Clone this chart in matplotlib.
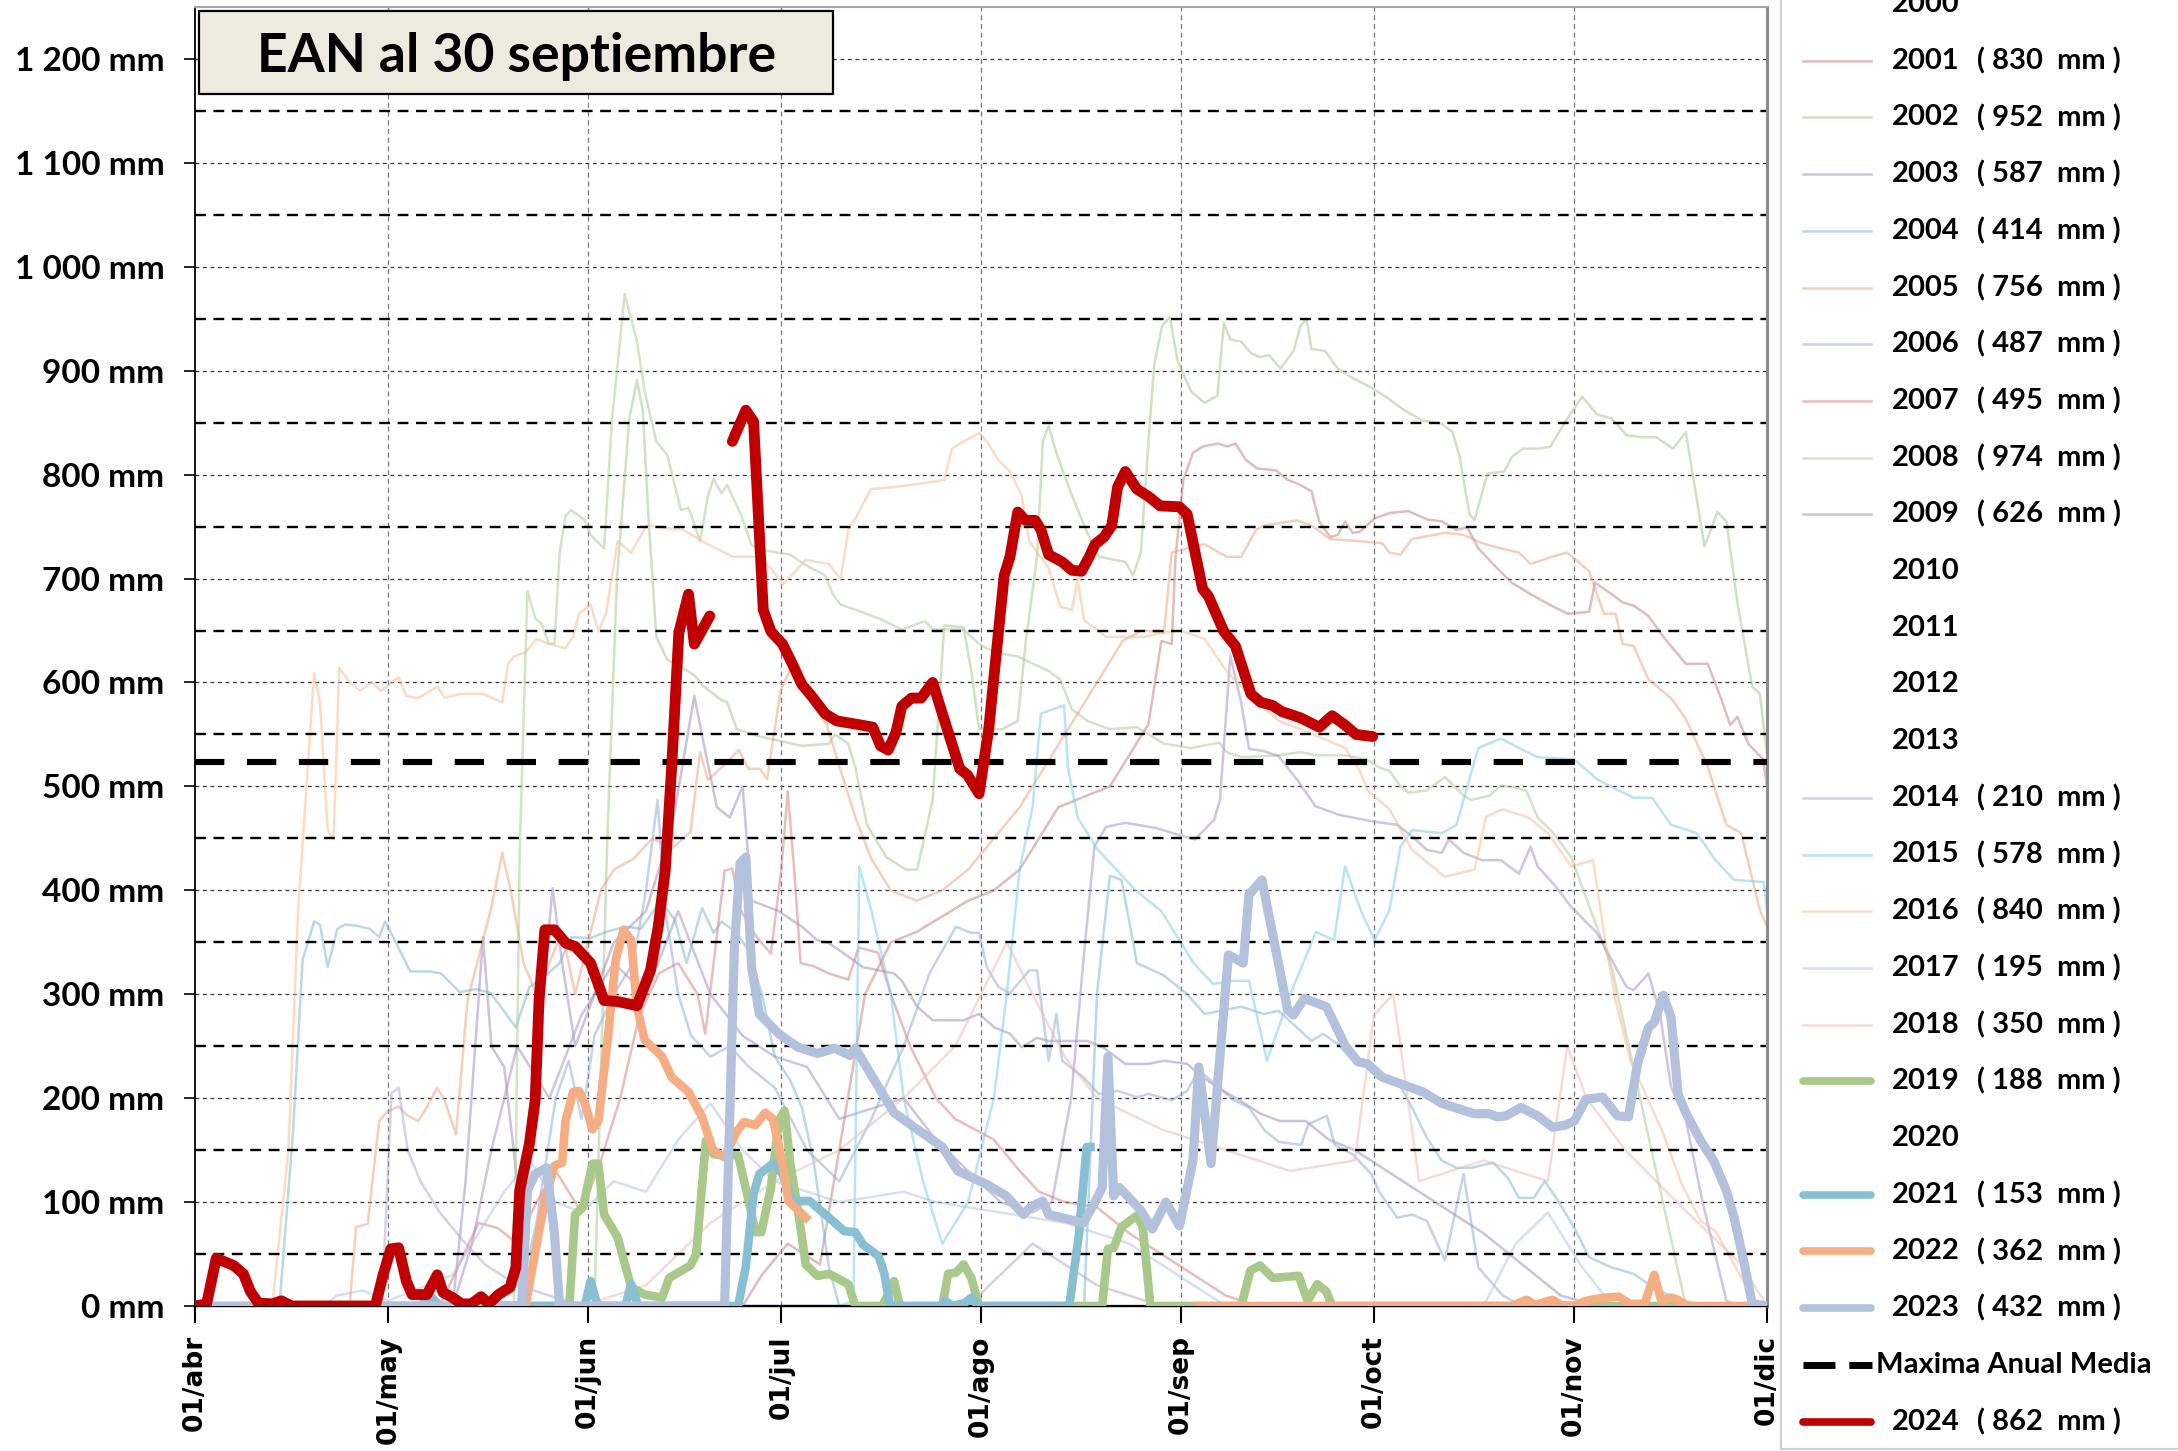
import numpy as np
import matplotlib
matplotlib.use("Agg")
import matplotlib.pyplot as plt
from matplotlib.lines import Line2D
from matplotlib.patches import Rectangle

nan = np.nan

# x axis: days counted from 1 April
MONTH_DAYS = [0, 30, 61, 91, 122, 153, 183, 214, 244]
MONTH_LABELS = ["01/abr", "01/may", "01/jun", "01/jul", "01/ago",
                "01/sep", "01/oct", "01/nov", "01/dic"]
Y_TICKS = list(range(0, 1300, 100))
Y_LABELS = ["0 mm", "100 mm", "200 mm", "300 mm", "400 mm", "500 mm", "600 mm",
            "700 mm", "800 mm", "900 mm", "1 000 mm", "1 100 mm", "1 200 mm"]
MAXIMA_MEDIA = 523
TITLE = "EAN al 30 septiembre"

# ---------------------------------------------------------------
# snow water equivalent (mm), (day, value) pairs per season
# ---------------------------------------------------------------
S2001 = [(0, 0), (85, 0), (88, 30), (92, 60), (97, 40), (100, 150), (104, 300), (108, 350),
         (112, 360), (116, 375), (120, 390), (124, 400), (128, 420), (131, 450), (134, 480),
         (138, 490), (142, 500), (145, 530), (148, 560), (150, 640), (151.6, 637), (152.2, 721),
         (153.4, 795), (154.9, 821), (156.4, 827), (158.8, 830), (160.3, 827), (161.5, 830),
         (163, 815), (164.8, 806), (167.8, 804), (169.6, 795), (171.6, 790), (173.3, 784),
         (174.5, 755), (176.2, 740), (177.4, 742), (178.5, 755), (179.7, 744), (180.8, 745),
         (183.1, 758), (185.4, 763), (188.3, 765), (191.2, 757), (193.5, 755), (195.8, 747),
         (197.5, 749), (199.2, 729), (202.1, 710), (204.4, 696), (207.3, 685), (210.2, 675),
         (213.1, 666), (216.4, 668), (217.3, 696), (219.9, 685), (221.6, 677), (223.3, 674),
         (225.6, 664), (227.9, 644), (231.4, 618), (234.8, 618), (236.6, 589), (238.3, 559),
         (239.4, 567), (241.1, 541), (243.4, 526), (244, 500)]

S2002 = [(0, 0), (62, 0), (64, 450), (65.5, 700), (67.4, 854), (68.6, 891), (69.5, 862),
         (70.4, 758), (71.6, 644), (73.3, 622), (75.7, 614), (77.5, 607), (79, 596), (81.7, 583),
         (82.6, 581), (84.1, 555), (87.7, 548), (90.6, 544), (94.2, 539), (98.4, 541), (99.3, 550),
         (101.4, 541), (102.5, 518), (104.3, 463), (107.3, 432), (110.3, 420), (112.1, 420),
         (114.5, 487), (116.3, 655), (119.3, 653), (120.5, 611), (121.7, 555), (125.3, 555),
         (127.7, 563), (128.9, 637), (130.7, 721), (131.6, 832), (132.5, 847), (133.7, 821),
         (136.1, 780), (138.5, 744), (140.3, 721), (144.4, 716), (145.6, 703), (146.8, 725),
         (148, 832), (148.9, 906), (150.1, 943), (151.3, 952), (152.5, 910), (154.6, 880),
         (156.7, 869), (158.7, 876), (159.7, 946), (160.7, 930), (162.4, 928), (163.9, 917),
         (165.3, 913), (166.7, 915), (168.5, 902), (170.5, 919), (171.6, 943), (172.5, 950),
         (173.3, 921), (175.4, 919), (177.4, 902), (179.7, 893), (182.5, 884), (184.8, 875),
         (187.7, 862), (190.5, 852), (193.5, 849), (195.2, 841), (196.3, 817), (197.8, 762),
         (198.6, 756), (200.6, 801), (203.2, 803), (204.4, 817), (206.1, 825), (208.4, 825),
         (210.4, 827), (212.7, 851), (215.3, 875), (217.6, 858), (219.9, 854), (222.2, 838),
         (224.5, 836), (226.8, 836), (229.4, 825), (231.4, 841), (234.3, 731), (236.3, 764),
         (237.7, 755), (239.4, 677), (241.7, 596), (242.9, 589), (244, 530)]

S2003 = [(0, 0), (40, 0), (42, 120), (44.7, 355), (46, 250), (48, 230), (50, 120), (52, 160),
         (54, 300), (55.5, 402), (57, 330), (59, 250), (62, 300), (65, 350), (70, 380), (74, 460),
         (77.5, 587), (79, 540), (81, 480), (83, 470), (85, 500), (86.4, 390), (90.6, 380),
         (94.2, 365), (96.6, 352), (98.4, 349), (100.8, 339), (103.7, 326), (108.5, 320),
         (109.7, 313), (112.1, 288), (114.5, 275), (119.3, 275), (121.7, 281), (124.1, 268),
         (126.5, 262), (128.3, 249), (130.7, 258), (132.5, 255), (138.5, 255), (140.9, 249),
         (144.4, 233), (148, 233), (150.4, 236), (154, 233), (156.4, 220), (158.8, 210),
         (162.4, 197), (165.4, 185), (168.4, 178), (172.4, 178), (176, 160), (180, 150),
         (185, 130), (190, 110), (195, 90), (200, 70), (206, 40), (212, 10), (218, 0)]

S2004 = [(0, 0), (13.1, 0), (15.2, 166), (16.7, 333), (18.5, 370), (19.4, 367), (20.6, 326),
         (22.1, 363), (23.3, 367), (25, 366), (27.1, 363), (28.6, 355), (29.5, 370), (31, 352),
         (33.4, 322), (36.4, 322), (38.2, 320), (41.1, 302), (43.6, 305), (45.9, 301), (47.1, 291),
         (49.8, 268), (51.9, 307), (54.3, 317), (56.6, 330), (58.4, 355), (61.4, 354), (63.8, 360),
         (66.8, 365), (69.2, 363), (71.6, 384), (73, 384), (74.5, 371), (76.3, 330), (78.7, 383),
         (80.5, 359), (81.7, 370), (84.1, 359), (85.9, 342), (88, 300), (90, 240), (92.4, 217),
         (94.2, 191), (96, 140), (98.4, 37), (100, 0), (138, 0), (140, 300), (142, 414),
         (143.8, 410), (146.2, 330), (150.4, 318), (154, 300), (156.7, 281), (162.4, 288),
         (165.9, 281), (168.2, 284), (170.5, 271), (173.3, 255), (175.1, 262), (177.4, 252),
         (179.7, 236), (182, 230), (184.3, 223), (186.6, 217), (188.9, 191), (191.2, 162),
         (193.5, 140), (195.8, 133), (198.1, 133), (201.5, 138), (203.8, 123), (205.5, 104),
         (207.8, 104), (209.5, 120), (211.3, 104), (214.1, 75), (216.4, 47), (219.9, 37),
         (223.3, 31), (225.6, 21), (228.5, 11), (234, 0)]

S2005 = [(0, 0), (24, 0), (25, 76), (26.8, 79), (28.6, 178), (29.8, 187), (31.6, 192),
         (32.8, 184), (34.6, 178), (35.8, 189), (37.6, 210), (38.8, 197), (40.5, 165),
         (42.3, 294), (44.7, 352), (45.9, 381), (47.7, 436), (49, 400), (51, 330), (53, 300),
         (55, 330), (57, 360), (59, 300), (61, 350), (63, 400), (65, 420), (68, 430), (71, 450),
         (74, 440), (76.9, 456), (78.4, 533), (79.6, 506), (81.7, 518), (84.4, 535), (85.9, 517),
         (87.7, 517), (88.8, 507), (90.9, 592), (92.4, 613), (95.4, 583), (98, 560), (100, 520),
         (102.5, 470), (105, 430), (108, 400), (112, 390), (116, 400), (120, 420), (124, 450),
         (128, 480), (132, 520), (136, 560), (140, 600), (144, 640), (147, 650), (150.4, 648),
         (151.6, 725), (154, 729), (156.7, 733), (160.1, 721), (162.4, 721), (164.7, 747),
         (165.9, 751), (171, 756), (173.3, 751), (176.2, 738), (180.8, 736), (184.3, 734),
         (185.4, 725), (187.1, 723), (188.9, 738), (194, 744), (196.9, 742), (199.8, 734),
         (202.7, 729), (205.5, 725), (207.3, 714), (210.7, 721), (213, 725), (216.4, 707),
         (217.6, 685), (218.7, 666), (220.5, 666), (221.6, 637), (223.3, 635), (225.6, 603),
         (229.1, 585), (231.4, 565), (234.8, 519), (237.7, 463), (240, 455), (242.9, 381),
         (244, 365)]

S2006 = [(0, 0), (50, 0), (53, 80), (56, 200), (58, 236), (60, 180), (62, 260), (65, 300),
         (68, 330), (70, 400), (71.8, 487), (73, 380), (75, 300), (77, 260), (80, 240), (83, 250),
         (86, 230), (90, 210), (95, 150), (100, 120), (105, 180), (110, 250), (114, 320),
         (118.1, 365), (120.5, 359), (121.7, 359), (122.9, 326), (124.7, 307), (126.5, 301),
         (129.5, 323), (130.7, 323), (132.5, 236), (133.7, 281), (134.6, 236), (137.9, 220),
         (140.3, 204), (143.2, 207), (146.2, 201), (148, 204), (151.6, 198), (154, 207),
         (155.8, 227), (158.8, 211), (161.2, 198), (163.6, 191), (166, 169), (168.2, 158),
         (171.7, 155), (172.8, 175), (175.7, 183), (176.9, 155), (179.7, 146), (182.6, 127),
         (183.7, 111), (186.6, 85), (188.9, 88), (191.2, 82), (194, 44), (196.9, 127),
         (199.2, 37), (203, 10), (206, 0)]

S2007 = [(0, 0), (38, 0), (41, 40), (44, 80), (47, 75), (50, 60), (53, 100), (56, 130), (60, 90),
         (63, 140), (66, 200), (69, 280), (72, 320), (75, 330), (78, 300), (79.2, 262),
         (82.2, 419), (83.4, 421), (84.6, 382), (86.4, 362), (87.6, 352), (89.4, 339), (91, 420),
         (92, 495), (93, 420), (94, 330), (96, 327), (98.4, 320), (101.4, 314), (103, 345),
         (106, 340), (108, 300), (111, 250), (115, 200), (118, 180), (121, 170), (124, 160),
         (128, 130), (131, 110), (135, 100), (140, 95), (145, 70), (150, 50), (155, 30),
         (160, 10), (165, 0)]

S2008 = [(0, 0), (49.5, 0), (50.4, 438), (51.6, 688), (52.8, 662), (53.7, 657), (54.9, 638),
         (55.8, 637), (56.6, 725), (57.5, 760), (58.4, 766), (60.5, 756), (61.4, 742), (63.5, 729),
         (64.7, 851), (66.7, 974), (68.6, 928), (69.8, 880), (71.6, 832), (73.3, 819), (75.4, 766),
         (76.6, 768), (78.4, 736), (79.6, 779), (80.5, 796), (81.7, 782), (82.6, 790), (84.7, 762),
         (86.4, 732), (88.5, 727), (92.4, 723), (94.5, 714), (97.8, 703), (99, 685), (100.2, 675),
         (102.5, 670), (106.4, 661), (109.7, 651), (113.3, 659), (114.5, 651), (119.3, 651),
         (121.7, 637), (124.1, 629), (127.7, 625), (130.1, 618), (132.5, 611), (134.3, 603),
         (136.1, 574), (138.5, 563), (142, 555), (146.2, 557), (150.4, 541), (154.6, 537),
         (159, 542), (160.1, 533), (162.4, 528), (168.2, 530), (171.6, 533), (173.9, 530),
         (178.5, 530), (181.8, 526), (183.9, 518), (185.4, 515), (187.1, 500), (188.3, 494),
         (191.2, 496), (194, 509), (196.9, 491), (198.1, 487), (200.9, 491), (202.7, 501),
         (205.5, 498), (206.7, 495), (208.4, 470), (210.7, 456), (213.6, 432), (219.9, 326),
         (225, 180), (231.4, 0)]

S2009 = [(0, 0), (40, 0), (43, 60), (46, 150), (50, 250), (55, 200), (60, 280), (65, 330),
         (70, 300), (75, 380), (80, 300), (85, 260), (90, 240), (95, 230), (100, 180), (105, 190),
         (110, 200), (115, 160), (120, 130), (125, 100), (130, 90), (133, 100), (136, 200),
         (137.9, 333), (139.6, 442), (141.4, 461), (144.4, 465), (149.2, 460), (153.4, 452),
         (155.2, 449), (158.2, 468), (159.1, 487), (160.7, 626), (162.4, 580), (163.6, 536),
         (165.9, 534), (168.2, 529), (171, 507), (173.9, 481), (177.4, 473), (179.7, 470),
         (183.1, 466), (186.6, 463), (188.9, 452), (191.2, 439), (193.5, 436), (194.6, 449),
         (196.9, 436), (199.8, 429), (202.7, 429), (205.5, 416), (207.3, 442), (208.4, 423),
         (211.3, 403), (213.6, 384), (217.6, 359), (219.9, 333), (222.2, 307), (223.3, 304),
         (225.6, 320), (227.4, 281), (229.1, 211), (231.4, 179), (234, 100), (237.7, 5),
         (240, 0)]

S2014 = [(0, 0), (29, 0), (30.5, 205), (31.6, 210), (33, 150), (35, 120), (38, 90), (42, 60),
         (45, 40), (50, 20), (55, 10), (60, 0), (120, 0), (125, 30), (130, 60), (135, 40),
         (140, 20), (150, 0)]

S2015 = [(0, 0), (100, 0), (102.2, 5), (103.1, 423), (105, 380), (108, 300), (110, 200),
         (113, 120), (116, 60), (120, 100), (124, 200), (126, 300), (128, 420), (130, 480),
         (131.3, 570), (134.9, 578), (135.5, 518), (137, 470), (140, 440), (143, 420),
         (146, 400), (150, 380), (155, 330), (158, 310), (161.2, 313), (163.6, 313),
         (166.4, 236), (170, 300), (174, 360), (176.8, 352), (178.5, 423), (181, 380),
         (183.1, 352), (185.4, 381), (187.1, 442), (188.9, 458), (193.5, 455), (195.8, 463),
         (196.9, 487), (199.2, 537), (202.7, 546), (205.5, 537), (208.4, 528), (214.1, 526),
         (217.6, 507), (221, 496), (223.3, 489), (226.2, 489), (229.1, 463), (233.1, 455),
         (236, 429), (238.9, 410), (243.5, 408), (244, 381)]

S2016 = [(0, 0), (12, 0), (14.5, 150), (16, 380), (18.5, 609), (19.4, 581), (20.6, 458),
         (21.5, 449), (22.4, 614), (23.9, 601), (25.6, 592), (27.4, 600), (28.9, 592), (31.6, 605),
         (32.8, 587), (34.6, 585), (37.6, 596), (38.8, 585), (41.1, 589), (44.7, 589), (47.7, 581),
         (48.6, 618), (49.5, 625), (51.3, 629), (53, 642), (54.9, 637), (57.5, 633), (58.7, 644),
         (59.6, 666), (61.4, 675), (62.6, 649), (63.8, 666), (65.6, 736), (67.7, 725), (70.1, 751),
         (72.7, 749), (75.7, 747), (79.3, 734), (83.5, 721), (87.1, 721), (89.4, 710), (91.2, 694),
         (94.8, 718), (98.4, 714), (100.2, 699), (101.4, 747), (102.5, 758), (104.9, 786),
         (108.5, 788), (114.5, 793), (116.3, 795), (117.5, 825), (119.3, 832), (121.7, 840),
         (122.9, 832), (124.7, 814), (126.5, 803), (128.3, 780), (129.5, 736), (132.5, 710),
         (134.3, 673), (136.1, 670), (137, 699), (138, 660), (141.4, 644), (147.4, 644),
         (150.4, 648), (153, 650), (156.7, 642), (160.1, 611), (162.4, 596), (168.2, 563),
         (172.8, 552), (178.5, 537), (180.8, 515), (182, 496), (185.4, 478), (188.9, 439),
         (194, 413), (198.6, 420), (200.4, 471), (203, 478), (207, 470), (210, 455),
         (213.6, 423), (217, 429), (218.7, 359), (220.5, 294), (222.8, 236), (225.6, 198),
         (227.9, 166), (230.8, 117), (233.7, 82), (236, 72), (238.3, 47), (241.7, 8), (244, 0)]

S2017 = [(0, 0), (20, 0), (22, 10), (26, 15), (30, 5), (40, 30), (45, 80), (48, 110), (52, 140),
         (56, 100), (60, 90), (65, 120), (70, 110), (75, 160), (80, 195), (85, 150), (90, 120),
         (95, 110), (100, 100), (105, 105), (110, 110), (115, 100), (120, 95), (125, 90),
         (130, 85), (135, 80), (140, 70), (145, 60), (150, 40), (155, 20), (160, 0), (200, 0),
         (205, 60), (210, 90), (215, 40), (220, 0)]

S2018 = [(60, 0), (70, 20), (80, 80), (90, 120), (100, 150), (110, 200), (118, 250), (122, 300),
         (126, 350), (130, 300), (135, 240), (140, 200), (150, 170), (160, 150), (170, 130),
         (180, 140), (183, 280), (186, 300), (190, 120), (195, 130), (200, 140), (210, 120),
         (213, 250), (216, 200), (222, 150), (230, 100), (240, 40), (244, 0)]

S2019 = [(44, 0), (58.1, 0), (59, 88), (60.2, 95), (61.7, 137), (62.6, 137), (63.5, 88),
         (65.6, 66), (67.7, 18), (69.8, 11), (72.5, 8), (73.6, 27), (76.9, 39), (77.8, 50),
         (79.3, 159), (80.5, 146), (82.2, 145), (84.3, 145), (85.8, 105), (87, 71), (87.9, 71),
         (89.4, 114), (90.6, 178), (91.5, 188), (92.4, 137), (93.6, 92), (94.8, 40), (96.6, 29),
         (98.4, 31), (101.4, 21), (102.5, 0), (106.7, 0), (108.5, 24), (109.4, 0), (116, 0),
         (116.9, 31), (118.1, 32), (119.3, 40), (120.5, 27), (121.7, 0), (140.8, 0), (141.7, 55),
         (142.6, 56), (143.8, 76), (146.2, 87), (147.1, 76), (148.3, 0), (162.4, 0), (163.8, 34),
         (165.3, 39), (167.3, 27), (171.3, 29), (172.7, 5), (174.2, 21), (175.6, 14), (176.5, 0),
         (230, 0)]

S2020 = [(84, 0), (150, 0)]

S2021 = [(20, 0), (35, 0), (36.5, 10), (38, 0), (60.5, 0), (61.4, 24), (62.5, 0), (66.8, 0),
         (67.7, 21), (68.8, 0), (84.3, 0), (85.5, 38), (86.7, 108), (87.6, 127), (89.7, 137),
         (91.2, 127), (92.7, 101), (95.4, 101), (98.4, 85), (100.8, 72), (102.5, 71), (103.7, 59),
         (106.1, 48), (107, 31), (107.9, 0), (115.7, 0), (116.5, 5), (117.5, 0), (119.5, 3),
         (120.5, 8), (121.5, 0), (135.7, 0), (137.2, 69), (138.4, 153), (139, 153)]

S2022 = [(44, 0), (51.3, 0), (53.4, 72), (54.3, 101), (55.8, 135), (57, 138), (57.5, 178),
         (58.7, 206), (59.6, 207), (60.5, 195), (61.7, 170), (62.6, 178), (64.1, 259), (65.3, 333),
         (66.5, 362), (67.7, 352), (68.6, 288), (69.8, 256), (72.5, 240), (74, 220), (76.6, 206),
         (78.7, 182), (80.4, 150), (82.2, 143), (84, 167), (85.2, 177), (87, 174), (88.5, 186),
         (89.7, 180), (91.2, 137), (92.1, 101), (94.8, 85), (125, nan), (155.8, 0), (204.4, 0),
         (205.5, 3), (206.7, 6), (208, 1), (210.7, 6), (212, 1), (214, 0), (215.9, 5), (218.7, 8),
         (221, 9), (222.7, 2), (225, 2), (226.5, 30), (227.6, 5), (229.1, 8), (230.2, 6),
         (231.4, 0), (241.7, 0)]

S2023 = [(0, 0), (48, 0), (50.7, 0), (51.6, 111), (52.8, 127), (54.6, 133), (55.8, 69),
         (56.6, 0), (82.2, 0), (83.7, 342), (84.6, 426), (85.5, 432), (86.4, 326), (87.6, 281),
         (90.6, 262), (93.6, 249), (96.6, 243), (99.3, 248), (101.7, 241), (102.5, 248),
         (104.9, 223), (108.5, 186), (112.1, 170), (116, 153), (118.4, 130), (122.9, 117),
         (125.9, 106), (128.6, 88), (129.8, 96), (131.6, 101), (132.5, 88), (134.6, 85),
         (137.9, 80), (139.7, 100), (140.8, 114), (141.7, 240), (142.6, 106), (143.5, 114),
         (146.8, 92), (148.6, 74), (150.7, 100), (152.8, 77), (154.9, 140), (155.8, 230),
         (157.7, 137), (160.4, 338), (162.7, 330), (163.6, 396), (165.6, 410), (169.6, 285),
         (170.5, 280), (172.2, 296), (175.6, 288), (178.5, 251), (180.5, 235), (182, 233),
         (184.3, 220), (186.6, 215), (190.6, 206), (193.5, 195), (198.6, 185), (200.9, 185),
         (202.1, 182), (203.5, 183), (205.8, 191), (208.4, 183), (210.7, 172), (212.7, 174),
         (214.1, 178), (215.9, 199), (218.5, 201), (220.8, 183), (222.5, 182), (223.9, 233),
         (225.6, 268), (226.5, 273), (227.9, 299), (229.1, 278), (230.2, 204), (231.4, 186),
         (233.7, 159), (235.7, 140), (237.7, 111), (238.9, 85), (240.6, 37), (241.7, 2), (244, 0)]

S2024 = [(0, 0), (1.8, 2), (3.3, 46), (4.8, 42), (6, 39), (7.5, 31), (8.6, 14), (9.8, 3), (12, 2),
         (13.4, 5), (15, 0), (28, 0), (29.2, 30), (30.4, 55), (31.6, 56), (32.8, 24), (33.7, 11),
         (36, 11), (37.6, 30), (38.5, 13), (40, 8), (41.4, 2), (42.9, 2), (44.4, 9), (45.6, 2),
         (47.1, 11), (48.9, 18), (49.8, 37), (50.4, 111), (51.9, 156), (52.8, 198), (53.4, 294),
         (54.3, 362), (55.8, 362), (57.6, 349), (59, 346), (61.4, 330), (63.5, 294), (65.6, 293),
         (68.6, 289), (70.7, 323), (71.9, 365), (73, 420), (74, 520), (75.1, 648), (76.6, 685),
         (77.5, 637), (79.9, 664), (81.5, nan), (83.4, 832), (85.5, 862), (86.7, 851), (88.2, 670),
         (89.4, 649), (91.2, 637), (92.7, 618), (94.2, 598), (95.7, 587), (97.8, 570), (99.6, 563),
         (102.5, 560), (105.2, 557), (106.4, 539), (107.6, 535), (108.8, 552), (109.7, 577),
         (111.2, 585), (112.7, 585), (114.5, 600), (116, 570), (118.7, 517), (119.9, 511),
         (121.7, 493), (123.2, 555), (124.7, 648), (125.6, 703), (126.5, 721), (127.7, 764),
         (128.9, 756), (130.4, 756), (131.3, 747), (132.5, 723), (134.6, 716), (136.1, 708),
         (137.6, 707), (138.8, 721), (139.7, 733), (141.1, 740), (142.3, 751), (143.2, 788),
         (144.4, 803), (146.2, 786), (148, 779), (149.8, 770), (152.8, 769), (154, 762),
         (156.4, 690), (157.3, 683), (159.7, 649), (161.5, 635), (163.9, 589), (165.4, 581),
         (167.2, 578), (168.7, 572), (171.6, 566), (174.5, 557), (176.5, 568), (178.5, 559),
         (180.2, 550), (182.8, 548)]

SEASONS = {2001: S2001, 2002: S2002, 2003: S2003, 2004: S2004, 2005: S2005, 2006: S2006,
           2007: S2007, 2008: S2008, 2009: S2009, 2014: S2014, 2015: S2015, 2016: S2016,
           2017: S2017, 2018: S2018, 2019: S2019, 2020: S2020, 2021: S2021, 2022: S2022,
           2023: S2023, 2024: S2024}

# pale past seasons and the highlighted recent ones (colour, width pt, zorder)
FAINT_COLORS = {2001: "#C07C7C", 2002: "#A3C28C", 2003: "#9888BC", 2004: "#78B4C8",
                2005: "#EBA078", 2006: "#8AA8D2", 2007: "#D67C7C", 2008: "#A6C892",
                2009: "#A08CC2", 2014: "#B0A2D0", 2015: "#76CADF", 2016: "#F6BA8E",
                2017: "#AEC2E6", 2018: "#EAB8B8"}
BOLD_STYLE = {2019: ("#A9C98A", 6.2, 3.0), 2021: ("#88BFD3", 6.2, 3.1),
              2022: ("#F5AD84", 6.2, 3.2), 2023: ("#B3C1DD", 6.6, 3.3),
              2024: ("#C00000", 7.8, 3.6)}

W, H = 2178, 1451


def fx(px):
    return px / W


def fy(py):
    return 1 - py / H


def split(pts):
    return [p[0] for p in pts], [p[1] for p in pts]


fig = plt.figure(figsize=(W / 100, H / 100), dpi=100)
fig.patch.set_facecolor("white")
ax = fig.add_axes([fx(195), fy(1306), fx(1767) - fx(195), fy(7) - fy(1306)])
ax.set_xlim(0, 244)
ax.set_ylim(0, 1250)

# grid: thin dotted on the hundreds, heavier dashes on the fifties
for y in range(100, 1300, 100):
    ax.axhline(y, color="#333333", lw=0.9, ls=(0, (3, 3)), zorder=1)
for y in range(50, 1200, 100):
    ax.axhline(y, color="black", lw=1.7, ls=(0, (4.6, 3.2)), zorder=2.5)
for d in MONTH_DAYS[1:-1]:
    ax.axvline(d, color="#777777", lw=0.9, ls=(0, (4, 3)), zorder=1)

for year, color in FAINT_COLORS.items():
    x, y = split(SEASONS[year])
    ax.plot(x, y, color=color, lw=1.8, alpha=0.5, zorder=2)

x, y = split(SEASONS[2020])
ax.plot(x, y, color="black", lw=1.6, zorder=2.7)

for year in [2019, 2021, 2022, 2023]:
    c, lw, z = BOLD_STYLE[year]
    x, y = split(SEASONS[year])
    ax.plot(x, y, color=c, lw=lw, zorder=z, solid_joinstyle="round")

ax.axhline(MAXIMA_MEDIA, color="black", lw=4.4, ls=(0, (4.8, 3.7)), zorder=3.4)

c, lw, z = BOLD_STYLE[2024]
x, y = split(SEASONS[2024])
ax.plot(x, y, color=c, lw=lw, zorder=z, solid_joinstyle="round", solid_capstyle="round")

# axes, ticks
ax.set_yticks(Y_TICKS)
ax.set_yticklabels(Y_LABELS, fontsize=24, fontweight="bold",
                   family=["DejaVu Sans Condensed", "Liberation Sans Narrow", "Lato"])
ax.set_xticks(MONTH_DAYS)
ax.set_xticklabels(MONTH_LABELS, rotation=90, fontsize=19, fontweight="bold",
                   family="DejaVu Sans")
ax.tick_params(axis="y", direction="out", length=8, width=1.2, pad=14, colors="black")
ax.tick_params(axis="x", direction="out", length=12, width=1.5, pad=9)
ax.spines["left"].set_color("black")
ax.spines["left"].set_linewidth(1.3)
ax.spines["bottom"].set_color("black")
ax.spines["bottom"].set_linewidth(1.0)
ax.spines["top"].set_color("#A6A6A6")
ax.spines["top"].set_linewidth(1.5)
ax.spines["right"].set_color("#8C8C8C")
ax.spines["right"].set_linewidth(2.2)

# title box
fig.add_artist(Rectangle((fx(199), fy(94)), fx(833) - fx(199), fy(11) - fy(94),
                         transform=fig.transFigure, facecolor="#EDEBE0",
                         edgecolor="black", lw=1.6, zorder=5))
fig.text(fx(517), fy(72), TITLE, fontsize=38.5, fontweight="bold", family="Lato",
         ha="center", va="baseline", zorder=6)

# legend panel on the right
fig.add_artist(Rectangle((fx(1781), fy(1449)), fx(2200) - fx(1781), fy(-20) - fy(1449),
                         transform=fig.transFigure, facecolor="white",
                         edgecolor="#D0D0D0", lw=1.5, zorder=4))

rows = list(range(2000, 2024)) + ["media", 2024]
for i, entry in enumerate(rows):
    yc = fy(4 + 56.7 * i)
    if entry == "media":
        fig.add_artist(Line2D([fx(1803), fx(1872)], [yc, yc], color="black", lw=5,
                              ls=(0, (4.6, 2.0)), transform=fig.transFigure, zorder=6))
        fig.text(fx(1876), yc, "Maxima Anual Media", fontsize=21, fontweight="bold",
                 family="Lato", va="center", zorder=6)
        continue
    year = entry
    fig.text(fx(1892), yc, str(year), fontsize=21, fontweight="bold", family="Lato",
             va="center", zorder=6)
    if year not in SEASONS or year == 2020:
        continue
    if year in FAINT_COLORS:
        fig.add_artist(Line2D([fx(1803), fx(1871)], [yc, yc], color=FAINT_COLORS[year],
                              lw=1.8, alpha=0.5, transform=fig.transFigure, zorder=6))
    else:
        fig.add_artist(Line2D([fx(1803), fx(1871)], [yc, yc], color=BOLD_STYLE[year][0],
                              lw=5.5, solid_capstyle="round", transform=fig.transFigure,
                              zorder=6))
    peak = np.nanmax(split(SEASONS[year])[1])
    fig.text(fx(1977), yc, f"( {peak:.0f}  mm )", fontsize=21, fontweight="bold",
             family="Lato", va="center", zorder=6)

fig.savefig("out.png", dpi=100, facecolor="white")
